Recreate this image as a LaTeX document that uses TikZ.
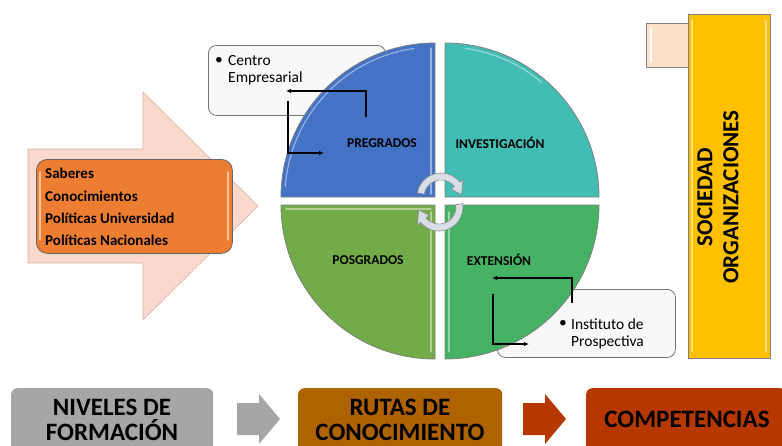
\documentclass[tikz,border=0pt]{standalone}
\usepackage{fontspec}
\setmainfont{Carlito}
\usetikzlibrary{calc,arrows.meta}
\definecolor{cblue}{RGB}{68,114,196}
\definecolor{cteal}{RGB}{66,189,180}
\definecolor{colive}{RGB}{114,172,72}
\definecolor{cgreen}{RGB}{70,178,100}
\definecolor{corange}{RGB}{237,125,49}
\definecolor{cpink}{RGB}{250,216,204}
\definecolor{cpinkline}{RGB}{214,178,166}
\definecolor{cyellow}{RGB}{255,192,0}
\definecolor{cpeach}{RGB}{253,226,200}
\definecolor{cgray}{RGB}{166,166,166}
\definecolor{cbrown}{RGB}{175,98,0}
\definecolor{cred}{RGB}{182,56,0}
\definecolor{carc}{RGB}{216,221,232}
\definecolor{cbox}{RGB}{248,248,248}
\tikzset{
  quad/.style={draw=black!50, line width=0.8pt},
  qlbl/.style={font=\bfseries\fontsize{13.5}{15}\selectfont, text=black, inner sep=0pt},
  btxt/.style={font=\fontsize{15.5}{17}\selectfont, text=black, inner sep=0pt, anchor=west},
  otxt/.style={font=\bfseries\fontsize{15}{17}\selectfont, text=black, inner sep=0pt, anchor=west},
  conn/.style={draw=black, line width=1.3pt, -{Latex[length=5pt,width=4.5pt]}},
  infobox/.style={draw=black!55, fill=cbox, rounded corners=8pt, line width=0.8pt, anchor=north west, inner sep=0pt},
  bottombox/.style={rounded corners=6pt, anchor=north west, inner sep=0pt},
  bigtxt/.style={font=\bfseries\fontsize{25}{25}\selectfont, text=black, align=center, inner sep=0pt},
  curv/.style={fill=carc, draw=black!45, line width=0.6pt},
  hl/.style={line width=1.2pt, line cap=round}
}
\begin{document}
\begin{tikzpicture}[x=1pt,y=-1pt]
\useasboundingbox (0,0) rectangle (782,445);

% big pink arrow
\filldraw[fill=cpink, draw=cpinkline, line width=0.6pt]
  (28,149) -- (143,149) -- (143,92) -- (258,206) -- (143,320) -- (143,263) -- (28,263) -- cycle;

% orange box
\node[draw=black!60, fill=corange, rounded corners=11pt, line width=0.8pt, minimum width=196pt, minimum height=94pt, anchor=north west, inner sep=0pt] (saberes) at (36,159) {};
\draw[hl, white!55!corange] (40,172) -- (40,240);
\draw[hl, white!55!corange] (228,172) -- (228,240);
\node[otxt] (s1) at (45,173) {Saberes};
\node[otxt] (s2) at (45,196) {Conocimientos};
\node[otxt] (s3) at (45,218) {Políticas Universidad};
\node[otxt] (s4) at (45,240) {Políticas Nacionales};

% info boxes (behind the circle)
\node[infobox, minimum width=177pt, minimum height=70pt] (centro) at (208,45) {};
\node[btxt] (b1) at (215,61) {•};
\node[btxt] (c1) at (228,61) {Centro};
\node[btxt] (c2) at (228,78) {Empresarial};

\node[infobox, minimum width=178pt, minimum height=68pt] (inst) at (497,289) {};
\node[btxt] (b2) at (559,324) {•};
\node[btxt] (i1) at (571,324) {Instituto de};
\node[btxt] (i2) at (571,342) {Prospectiva};

% quadrants
\coordinate (cb) at (435,197);
\coordinate (ct) at (445,197);
\coordinate (co) at (435,205);
\coordinate (cg) at (445,205);
\filldraw[quad, fill=cblue] (cb) -- ($(cb)+(0,-154)$) arc[start angle=90, end angle=180, radius=154pt] -- cycle;
\filldraw[quad, fill=cteal] (ct) -- ($(ct)+(154,0)$) arc[start angle=0, end angle=90, radius=154pt] -- cycle;
\filldraw[quad, fill=colive] (co) -- ($(co)+(-154,0)$) arc[start angle=180, end angle=270, radius=154pt] -- cycle;
\filldraw[quad, fill=cgreen] (cg) -- ($(cg)+(0,154)$) arc[start angle=270, end angle=360, radius=154pt] -- cycle;
% highlights
\draw[hl, white!45!cblue] ($(cb)+(98:150pt)$) arc[start angle=98, end angle=176, radius=150pt];
\draw[hl, white!45!cblue] (431,48) -- (431,194);
\draw[hl, white!45!cteal] ($(ct)+(82:150pt)$) arc[start angle=82, end angle=50, radius=150pt];
\draw[hl, white!45!colive] (286,209) -- (431,209);
\draw[hl, white!45!colive] (431,212) -- (431,352);
\draw[hl, white!45!cgreen] (449,212) -- (449,352);

% quadrant labels
\node[qlbl] (preg) at (382,143) {PREGRADOS};
\node[qlbl] (inv) at (500,143) {INVESTIGACIÓN};
\node[qlbl] (posg) at (368,260) {POSGRADOS};
\node[qlbl] (ext) at (499,260) {EXTENSIÓN};

% connectors
\coordinate (p1) at (366,117);
\coordinate (p1e) at (286,91);
\coordinate (p2) at (288,101);
\coordinate (p2e) at (324,153);
\draw[conn] (p1) |- (p1e);
\draw[conn] (p2) |- (p2e);
\coordinate (q1) at (572,303);
\coordinate (q1e) at (492,278);
\coordinate (q2) at (493,294);
\coordinate (q2e) at (529,344);
\draw[conn] (q1) |- (q1e);
\draw[conn] (q2) |- (q2e);

% circular arrows
\coordinate (C1) at (441,197);
\coordinate (C2) at (439,207);
\filldraw[curv] ($(C1)+(170:24pt)$) arc[start angle=170, end angle=38, radius=24pt]
  -- ($(C1)+(38:28pt)$) -- ($(C1)+(6:20.5pt)$) -- ($(C1)+(38:13pt)$) -- ($(C1)+(38:17pt)$)
  arc[start angle=38, end angle=170, radius=17pt] -- cycle;
\filldraw[curv] ($(C2)+(8:24pt)$) arc[start angle=8, end angle=-140, radius=24pt]
  -- ($(C2)+(-140:28pt)$) -- ($(C2)+(-172:20.5pt)$) -- ($(C2)+(-140:13pt)$) -- ($(C2)+(-140:17pt)$)
  arc[start angle=-140, end angle=8, radius=17pt] -- cycle;

% society column
\node[draw=black!50, fill=cpeach, line width=0.8pt, minimum width=42pt, minimum height=44pt, anchor=north west, inner sep=0pt] (peach) at (646,23) {};
\draw[hl, white] (651,28) -- (651,62);
\node[draw=black!50, fill=cyellow, line width=0.8pt, minimum width=82pt, minimum height=344pt, anchor=north west, inner sep=0pt] (soc) at (688,14) {};
\draw[hl, white!50!cyellow] (692,20) -- (692,352);
\draw[hl, white!50!cyellow] (766,20) -- (766,352);
\node[rotate=90, font=\bfseries\fontsize{23}{26}\selectfont, align=center, inner sep=0pt] (soctext) at (718,197) {SOCIEDAD\\ORGANIZACIONES};

% bottom row
\node[bottombox, fill=cgray, minimum width=202pt, minimum height=80pt] (niv) at (11,388) {};
\node[bigtxt] (nivt) at (112,420) {NIVELES DE\\FORMACIÓN};
\node[bottombox, fill=cbrown, minimum width=204pt, minimum height=80pt] (rut) at (298,388) {};
\node[bigtxt] (rutt) at (400,420) {RUTAS DE\\CONOCIMIENTO};
\node[bottombox, fill=cred, minimum width=200pt, minimum height=80pt] (comp) at (586,388) {};
\node[bigtxt] (compt) at (687,419) {COMPETENCIAS};
\fill[cgray] (237,403) -- (259,403) -- (259,394) -- (280,419) -- (259,444) -- (259,435) -- (237,435) -- cycle;
\fill[cred] (523,403) -- (545,403) -- (545,394) -- (566,419) -- (545,444) -- (545,435) -- (523,435) -- cycle;
\end{tikzpicture}
\end{document}
